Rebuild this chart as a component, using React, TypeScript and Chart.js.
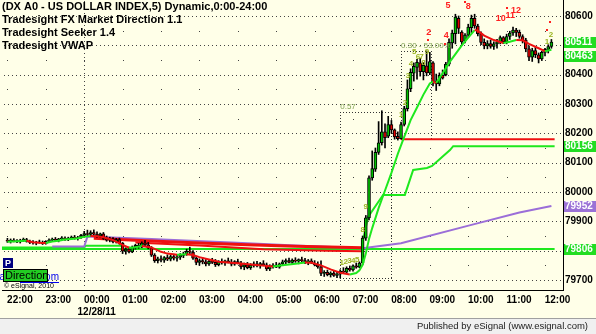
import React, { useEffect, useRef } from "react";
import { Chart, registerables } from "chart.js";

Chart.register(...registerables);

// ---------------- data ----------------
const titleLines = [
  "(DX A0 - US DOLLAR INDEX,5) Dynamic,0:00-24:00",
  "Tradesight FX Market Direction 1.1",
  "Tradesight Seeker 1.4",
  "Tradesight VWAP",
];
const footerText = "Published by eSignal (www.esignal.com)";
const copyrightText = "\u00A9 eSignal, 2010";
const directionText = "Direction";
const linkText = "www.tradesight.com";

// bar index 0 = 22:00, one bar per 5 minutes
const hourLabels = ["22:00", "23:00", "00:00", "01:00", "02:00", "03:00", "04:00", "05:00", "06:00", "07:00", "08:00", "09:00", "10:00", "11:00", "12:00"];
const hourBars = [0, 12, 24, 36, 48, 60, 72, 84, 96, 108, 120, 132, 144, 156, 168];
const dateLabel = "12/28/11";
const dateBar = 24;
const xMin = -1.69;
const xMax = 173.62;

const yTickValues = [80600, 80400, 80300, 80200, 80100, 80000, 79900, 79700];
const gridLevels = [79700, 79800, 79900, 80000, 80100, 80200, 80300, 80400, 80500, 80600];
const halfLevels = [79750, 79850, 79950, 80050, 80150, 80250, 80350, 80450, 80550];
const yMin = 79665.9;
const yMax = 80654.5;

const opens = [
  79835, 79832, 79836, 79833, 79830, 79835, 79838, 79831, 79828, 79826,
  79829, 79827, 79824, 79832, 79836, 79839, 79835, 79840, 79843, 79838,
  79842, 79846, 79841, 79845, 79852, 79858, 79855, 79862, 79856, 79850,
  79857, 79842, 79836, 79840, 79830, 79838, 79825, 79798, 79805, 79796,
  79812, 79818, 79812, 79826, 79820, 79810, 79785, 79766, 79772, 79768,
  79776, 79771, 79780, 79774, 79778, 79784, 79788, 79798, 79795, 79774,
  79760, 79766, 79762, 79755, 79764, 79760, 79752, 79762, 79758, 79765,
  79761, 79754, 79763, 79758, 79745, 79752, 79742, 79750, 79755, 79748,
  79756, 79752, 79738, 79746, 79751, 79744, 79755, 79762, 79766, 79760,
  79768, 79764, 79770, 79766, 79760, 79765, 79758, 79752, 79745, 79722,
  79726, 79718, 79724, 79716, 79720, 79730, 79727, 79740, 79734, 79748,
  79744, 79758, 79843, 79912, 80048, 80078, 80135, 80168, 80205, 80190,
  80230, 80212, 80190, 80182, 80230, 80284, 80352, 80405, 80425, 80440,
  80410, 80430, 80406, 80440, 80378, 80368, 80398, 80400, 80436, 80508,
  80540, 80592, 80545, 80515, 80535, 80560, 80592, 80566, 80540, 80510,
  80498, 80506, 80496, 80505, 80512, 80526, 80512, 80530, 80542, 80552,
  80544, 80530, 80518, 80488, 80460, 80482, 80468, 80454, 80476, 80486,
  80496,
];
const highs = [
  79842, 79840, 79841, 79838, 79839, 79843, 79842, 79836, 79834, 79832,
  79836, 79833, 79834, 79840, 79843, 79845, 79842, 79848, 79847, 79846,
  79850, 79852, 79849, 79856, 79866, 79870, 79868, 79871, 79864, 79860,
  79862, 79850, 79846, 79845, 79842, 79843, 79828, 79810, 79812, 79816,
  79822, 79825, 79830, 79835, 79828, 79814, 79790, 79778, 79782, 79780,
  79786, 79785, 79788, 79784, 79790, 79795, 79805, 79812, 79800, 79780,
  79772, 79776, 79770, 79768, 79774, 79770, 79766, 79772, 79768, 79775,
  79770, 79766, 79771, 79764, 79758, 79760, 79756, 79762, 79764, 79760,
  79766, 79758, 79752, 79756, 79760, 79758, 79768, 79772, 79775, 79772,
  79776, 79772, 79778, 79774, 79770, 79772, 79766, 79762, 79765, 79732,
  79734, 79728, 79730, 79726, 79735, 79742, 79745, 79748, 79752, 79758,
  79762, 79850, 79920, 80055, 80140, 80150, 80240, 80277, 80232, 80258,
  80244, 80215, 80205, 80238, 80292, 80382, 80420, 80440, 80452, 80456,
  80442, 80481, 80476, 80445, 80402, 80406, 80416, 80442, 80522, 80552,
  80606, 80600, 80550, 80540, 80572, 80603, 80606, 80572, 80546, 80522,
  80516, 80518, 80512, 80520, 80532, 80530, 80538, 80548, 80562, 80558,
  80552, 80536, 80524, 80498, 80490, 80494, 80474, 80480, 80490, 80502,
  80520,
];
const lows = [
  79828, 79826, 79830, 79827, 79826, 79831, 79829, 79824, 79822, 79820,
  79825, 79821, 79822, 79829, 79832, 79833, 79830, 79836, 79835, 79834,
  79838, 79839, 79836, 79842, 79848, 79850, 79849, 79852, 79845, 79844,
  79838, 79832, 79830, 79826, 79826, 79822, 79790, 79788, 79792, 79793,
  79805, 79808, 79810, 79815, 79806, 79780, 79760, 79758, 79762, 79760,
  79766, 79765, 79768, 79764, 79770, 79776, 79784, 79790, 79770, 79752,
  79750, 79755, 79748, 79750, 79756, 79746, 79748, 79754, 79750, 79758,
  79748, 79750, 79755, 79738, 79735, 79738, 79736, 79744, 79745, 79740,
  79748, 79732, 79732, 79740, 79742, 79740, 79750, 79755, 79758, 79754,
  79760, 79755, 79762, 79756, 79752, 79756, 79748, 79740, 79715, 79712,
  79714, 79710, 79712, 79708, 79707, 79722, 79724, 79730, 79730, 79740,
  79742, 79752, 79835, 79905, 80040, 80070, 80128, 80160, 80150, 80185,
  80200, 80180, 80177, 80180, 80225, 80276, 80342, 80378, 80385, 80395,
  80382, 80396, 80400, 80362, 80346, 80362, 80385, 80396, 80430, 80490,
  80505, 80540, 80500, 80508, 80528, 80542, 80558, 80532, 80502, 80488,
  80488, 80490, 80486, 80490, 80505, 80506, 80505, 80520, 80534, 80530,
  80524, 80508, 80478, 80448, 80445, 80458, 80440, 80448, 80464, 80474,
  80490,
];
const closes = [
  79832, 79836, 79833, 79830, 79835, 79838, 79831, 79828, 79826, 79829,
  79827, 79824, 79832, 79836, 79839, 79835, 79840, 79843, 79838, 79842,
  79846, 79841, 79845, 79852, 79858, 79855, 79862, 79856, 79850, 79857,
  79842, 79836, 79840, 79830, 79838, 79825, 79798, 79805, 79796, 79812,
  79818, 79812, 79826, 79820, 79810, 79785, 79766, 79772, 79768, 79776,
  79771, 79780, 79774, 79778, 79784, 79788, 79798, 79795, 79774, 79760,
  79766, 79762, 79755, 79764, 79760, 79752, 79762, 79758, 79765, 79761,
  79754, 79763, 79758, 79745, 79752, 79742, 79750, 79755, 79748, 79756,
  79752, 79738, 79746, 79751, 79744, 79755, 79762, 79766, 79760, 79768,
  79764, 79770, 79766, 79760, 79765, 79758, 79752, 79745, 79722, 79726,
  79718, 79724, 79716, 79720, 79730, 79727, 79740, 79734, 79748, 79744,
  79758, 79843, 79912, 80048, 80080, 80135, 80168, 80205, 80185, 80230,
  80212, 80188, 80182, 80230, 80284, 80352, 80408, 80428, 80442, 80410,
  80432, 80406, 80445, 80376, 80368, 80398, 80388, 80436, 80510, 80542,
  80596, 80558, 80512, 80535, 80562, 80592, 80566, 80540, 80510, 80498,
  80506, 80496, 80505, 80512, 80526, 80512, 80530, 80542, 80552, 80544,
  80530, 80515, 80488, 80460, 80482, 80468, 80454, 80476, 80486, 80496,
  80511,
];

// Tradesight FX Market Direction (moving line)
const maBars = [0, 3, 6, 8, 10, 12, 14, 16, 18, 20, 22, 24, 26, 28, 30, 33, 36, 38, 40, 42, 45, 48, 50, 53, 56, 58, 60, 63, 66, 69, 72, 76, 80, 83, 86, 90, 93, 95, 98, 101, 104, 107, 109, 110, 111, 112, 113, 114, 116, 118, 120, 122, 124, 126, 128, 130, 132, 133, 134, 136, 138, 140, 142, 144, 146, 147, 149, 152, 155, 157, 159, 161, 163, 166, 168, 170];
const maValues = [79830, 79832, 79834, 79829, 79827, 79826, 79831, 79834, 79838, 79840, 79842, 79847, 79850, 79849, 79846, 79836, 79820, 79810, 79812, 79816, 79811, 79796, 79790, 79786, 79788, 79785, 79778, 79770, 79762, 79760, 79757, 79753, 79749, 79746, 79750, 79755, 79760, 79759, 79750, 79736, 79725, 79719, 79724, 79733, 79752, 79790, 79840, 79877, 79945, 80005, 80065, 80130, 80188, 80245, 80288, 80332, 80370, 80376, 80372, 80405, 80440, 80470, 80500, 80526, 80552, 80550, 80533, 80518, 80508, 80512, 80518, 80517, 80505, 80490, 80480, 80485];

// Tradesight Seeker (stepped levels)
const seekerBars = [111, 112.7, 117.4, 124.2, 126.8, 131.1, 132.7, 138.3, 139.3, 171];
const seekerValues = [79830, 79915, 79990, 79990, 80075, 80082, 80089, 80143, 80156, 80156];
const seekerPrevBars = [-1.7, 24, 24.5, 36];
const seekerPrevValues = [79811, 79811, 79817, 79817];
const greenLevel = 79806;
const greenLevelBars = [-1.7, 171];
const redLevel = 80180;
const redLevelBars = [123, 171];

// red resistance bands in the overnight range
const redABars = [27, 35, 45, 60, 75, 90, 111];
const redAValues = [79842, 79838, 79833, 79826, 79820, 79815, 79810];
const redBBars = [40, 60, 80, 100, 111];
const redBValues = [79828, 79818, 79805, 79800, 79798];

// Tradesight VWAP
const vwapBars = [14, 24, 25, 45, 70, 90, 111, 123, 145, 160, 170];
const vwapValues = [79814, 79814, 79848, 79840, 79828, 79818, 79808, 79825, 79888, 79930, 79952];

// measured-move boxes
const boxStartBars = [104, 123];
const boxEndBars = [120, 132.4];
const boxLows = [79707, 80180];
const boxHighs = [80273, 80480];
const boxLabels = ["0.57", "0.30 - 53.00%"];

// count annotations
const countTexts = ["1", "2", "3", "4", "5", "8", "9", "1", "2", "3", "4", "5", "6", "7", "8", "9", "1", "2"];
const countBars = [104.5, 105.7, 106.9, 108.1, 109.3, 111, 112, 123, 124.2, 125.2, 126.1, 127.1, 128.3, 129.4, 130, 131.1, 168.6, 169.9];
const countPrices = [79758, 79761, 79764, 79767, 79770, 79870, 79949, 80262, 80303, 80395, 80436, 80477, 80460, 80460, 80440, 80477, 80511, 80535];
const redTexts = ["2", "4", "5", "8", "10", "11", "12"];
const redBars = [131.7, 137.1, 137.7, 144, 154.2, 157.1, 158.9];
const redPrices = [80545, 80532, 80634, 80631, 80590, 80603, 80620];
const redDotBars = [131.5, 136.6, 143, 156.2, 168.6, 169.6];
const redDotPrices = [80518, 80505, 80648, 80628, 80553, 80580];

// right-axis value flags (drawn bottom-up so the upper one covers an overlapping one)
const markerValues = [79806, 79952, 80156, 80463, 80511];
const markerColors = ["#22DD22", "#9B72D6", "#22DD22", "#22DD22", "#22DD22"];

// ---------------- rendering ----------------
const FONT = '"Liberation Sans", Arial, Helvetica, sans-serif';
const GREEN = "#1EE81E";
const RED = "#EE1010";
const PURPLE = "#9B6ED8";
const BG = "#FFFFE8";

function dotsH(ctx: CanvasRenderingContext2D, x1: number, x2: number, y: number, step: number) {
  for (let x = x1; x <= x2; x += step) ctx.fillRect(x, y, 1, 1);
}
function dotsV(ctx: CanvasRenderingContext2D, x: number, y1: number, y2: number, step: number) {
  for (let y = y1; y <= y2; y += step) ctx.fillRect(x, y, 1, 1);
}

const decorPlugin = {
  id: "esignalDecor",
  beforeDraw(chart: any) {
    const { ctx, width, height } = chart;
    ctx.save();
    ctx.fillStyle = BG;
    ctx.fillRect(0, 0, width, height);
    ctx.restore();
  },
  beforeDatasetsDraw(chart: any) {
    const { ctx, chartArea: a } = chart;
    const x = chart.scales.x;
    const y = chart.scales.y;
    ctx.save();
    ctx.fillStyle = "#444";
    for (const lv of gridLevels) {
      const py = Math.round(y.getPixelForValue(lv));
      dotsH(ctx, Math.ceil(a.left) + 2, a.right - 3, py, 4);
    }
    for (const hb of hourBars) {
      const px = Math.round(x.getPixelForValue(hb));
      for (const hl of halfLevels) {
        const py = Math.round(y.getPixelForValue(hl));
        ctx.fillRect(px, py, 1, 1);
      }
    }
    const dx = Math.round(x.getPixelForValue(dateBar));
    dotsV(ctx, dx, a.top + 1, a.bottom - 2, 4);

    ctx.fillStyle = "#333";
    for (let i = 0; i < boxStartBars.length; i++) {
      const x1 = Math.round(x.getPixelForValue(boxStartBars[i]));
      const x2 = Math.round(x.getPixelForValue(boxEndBars[i]));
      const yt = Math.round(y.getPixelForValue(boxHighs[i]));
      const yb = Math.round(y.getPixelForValue(boxLows[i]));
      dotsH(ctx, x1, x2, yt, 3);
      dotsH(ctx, x1, x2, yb, 3);
      dotsV(ctx, x1, yt, yb, 3);
      dotsV(ctx, x2, yt, yb, 3);
    }
    ctx.restore();
  },
  afterDraw(chart: any) {
    const { ctx, width, height } = chart;
    const x = chart.scales.x;
    const y = chart.scales.y;
    ctx.save();

    // box labels
    ctx.font = `8px ${FONT}`;
    ctx.fillStyle = "#7FA050";
    ctx.textAlign = "left";
    ctx.textBaseline = "bottom";
    for (let i = 0; i < boxLabels.length; i++) {
      const px = x.getPixelForValue(boxStartBars[i]);
      const py = y.getPixelForValue(boxHighs[i]);
      ctx.fillText(boxLabels[i], px, py - 1);
    }

    // count numbers
    ctx.textAlign = "center";
    ctx.textBaseline = "middle";
    ctx.font = `bold 8px ${FONT}`;
    ctx.fillStyle = "#9AB520";
    for (let i = 0; i < countTexts.length; i++) {
      ctx.fillText(countTexts[i], x.getPixelForValue(countBars[i]), y.getPixelForValue(countPrices[i]));
    }
    ctx.font = `bold 9px ${FONT}`;
    ctx.fillStyle = "#FF2020";
    for (let i = 0; i < redTexts.length; i++) {
      ctx.fillText(redTexts[i], x.getPixelForValue(redBars[i]), y.getPixelForValue(redPrices[i]));
    }
    for (let i = 0; i < redDotBars.length; i++) {
      ctx.fillRect(Math.round(x.getPixelForValue(redDotBars[i])) - 1, Math.round(y.getPixelForValue(redDotPrices[i])) - 1, 2, 2);
    }

    // title
    ctx.textAlign = "left";
    ctx.textBaseline = "middle";
    ctx.font = `bold 11px ${FONT}`;
    ctx.fillStyle = "#000";
    titleLines.forEach((t, i) => ctx.fillText(t, 2, 7 + i * 13));

    // right axis value flags; a flag too close to the one below is pushed against it
    ctx.font = `bold 10px ${FONT}`;
    const flagPos = markerValues.map((v) => Math.round(y.getPixelForValue(v)));
    for (let i = 1; i < flagPos.length; i++) {
      if (flagPos[i - 1] - flagPos[i] < 12) flagPos[i - 1] = flagPos[i] + 9;
    }
    for (let i = 0; i < markerValues.length; i++) {
      const py = flagPos[i];
      ctx.fillStyle = markerColors[i];
      ctx.fillRect(564, py - 5, 32, 11);
      ctx.fillStyle = "#FFFFFF";
      ctx.fillText(String(markerValues[i]), 565, py + 0.5);
    }

    // P / Direction panel
    ctx.font = `10px ${FONT}`;
    ctx.fillStyle = "#0000EE";
    ctx.textAlign = "right";
    ctx.fillText(linkText, 59, 277);
    ctx.fillRect(20, 282, 39, 1);
    ctx.fillStyle = "#000080";
    ctx.fillRect(3, 258, 10, 10);
    ctx.fillStyle = "#FFFFFF";
    ctx.textAlign = "center";
    ctx.font = `bold 9px ${FONT}`;
    ctx.fillText("P", 8, 263.5);
    ctx.fillStyle = "#22CC22";
    ctx.fillRect(3, 269, 45, 13);
    ctx.strokeStyle = "#000";
    ctx.lineWidth = 1;
    ctx.strokeRect(3.5, 269.5, 44, 12);
    ctx.fillStyle = "#000";
    ctx.textAlign = "left";
    ctx.font = `11px ${FONT}`;
    ctx.fillText(directionText, 5, 276);
    ctx.font = `7px ${FONT}`;
    ctx.fillText(copyrightText, 4, 286.5);

    // status bar
    ctx.fillStyle = "#F0F0F0";
    ctx.fillRect(0, 319, width, height - 319);
    ctx.fillStyle = "#A0A0A0";
    ctx.fillRect(0, 318, width, 1);
    ctx.fillStyle = "#222";
    ctx.textAlign = "right";
    ctx.font = `9.5px ${FONT}`;
    ctx.fillText(footerText, 588, 326.5);
    ctx.restore();
  },
};

export default function App() {
  const ref = useRef<HTMLCanvasElement>(null);

  useEffect(() => {
    const canvas = ref.current;
    if (!canvas) return;
    const idx = opens.map((_, i) => i);
    const bodyColors = idx.map((i) => (closes[i] >= opens[i] ? "#00C000" : "#E00000"));
    const pts = (bars: number[], vals: number[]) => bars.map((b, i) => ({ x: b, y: vals[i] }));
    const line = (data: any[], color: string, w: number, order: number, extra: any = {}) => ({
      type: "line",
      data,
      borderColor: color,
      borderWidth: w,
      pointRadius: 0,
      tension: 0,
      order,
      ...extra,
    });

    const chart = new Chart(canvas, {
      type: "bar",
      data: {
        datasets: [
          line(pts(maBars, maValues), GREEN, 2, 0, {
            segment: { borderColor: (c: any) => (c.p1.parsed.y < c.p0.parsed.y ? RED : GREEN) },
          }),
          {
            type: "bar",
            data: idx.map((i) => ({ x: i, y: [opens[i], closes[i]] })),
            backgroundColor: bodyColors,
            borderColor: "#000",
            borderWidth: 1,
            borderSkipped: false,
            barThickness: 3,
            minBarLength: 1,
            grouped: false,
            order: 1,
          },
          {
            type: "bar",
            data: idx.map((i) => ({ x: i, y: [lows[i], highs[i]] })),
            backgroundColor: "#000",
            borderWidth: 0,
            barThickness: 1,
            grouped: false,
            order: 2,
          },
          line(pts(redABars, redAValues), RED, 3, 3),
          line(pts(redBBars, redBValues), RED, 2, 3),
          line(pts(vwapBars, vwapValues), PURPLE, 2, 4),
          line(pts(seekerBars, seekerValues), GREEN, 2, 5),
          line(pts(seekerPrevBars, seekerPrevValues), GREEN, 2, 5),
          line(greenLevelBars.map((b) => ({ x: b, y: greenLevel })), GREEN, 2, 6),
          line(redLevelBars.map((b) => ({ x: b, y: redLevel })), RED, 2, 6),
        ] as any,
      },
      options: {
        animation: false,
        responsive: false,
        maintainAspectRatio: false,
        devicePixelRatio: 1,
        events: [],
        layout: { padding: { left: 2, right: 0, top: 0, bottom: 15 } },
        plugins: { legend: { display: false }, tooltip: { enabled: false }, title: { display: false } },
        scales: {
          x: {
            type: "linear",
            min: xMin,
            max: xMax,
            offset: false,
            grid: { display: false, drawTicks: false, tickLength: 0 },
            border: { display: true, color: "#000", width: 1 },
            afterBuildTicks: (axis: any) => {
              axis.ticks = hourBars.map((v) => ({ value: v }));
            },
            afterFit: (axis: any) => {
              axis.height = 29;
              axis.paddingLeft = 0;
              axis.paddingRight = 0;
            },
            ticks: {
              autoSkip: false,
              maxRotation: 0,
              minRotation: 0,
              padding: 4,
              labelOffset: 12.5,
              color: "#000",
              font: { family: FONT, size: 10, weight: "bold" },
              callback: (v: any, i: number) => (hourBars[i] === dateBar ? [hourLabels[i], dateLabel] : hourLabels[i]),
            },
          },
          y: {
            type: "linear",
            position: "right",
            min: yMin,
            max: yMax,
            grid: { display: false, drawTicks: false, tickLength: 0 },
            border: { display: true, color: "#000", width: 1 },
            afterBuildTicks: (axis: any) => {
              axis.ticks = yTickValues.map((v) => ({ value: v }));
            },
            afterFit: (axis: any) => {
              axis.width = 33;
              axis.paddingTop = 0;
              axis.paddingBottom = 0;
            },
            ticks: {
              autoSkip: false,
              padding: 2,
              color: "#000",
              font: { family: FONT, size: 10, weight: "bold" },
              callback: (v: any) => String(v),
            },
          },
        },
      } as any,
      plugins: [decorPlugin as any],
    });
    return () => chart.destroy();
  }, []);

  return (
    <div style={{ position: "absolute", left: 0, top: 0, width: 596, height: 334 }}>
      <canvas ref={ref} width={596} height={334} style={{ display: "block", width: 596, height: 334 }} />
    </div>
  );
}
